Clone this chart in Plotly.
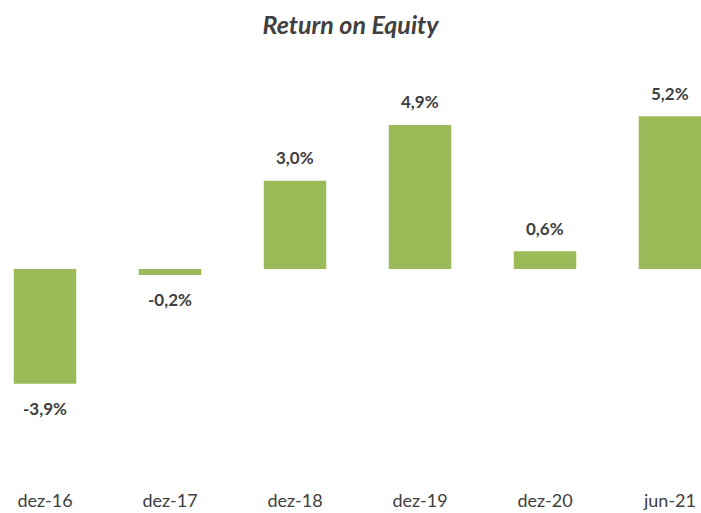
import plotly.graph_objects as go

categories = ["dez-16", "dez-17", "dez-18", "dez-19", "dez-20", "jun-21"]
roe_values = [-3.9, -0.2, 3.0, 4.9, 0.6, 5.2]

FONT = "Lato, Open Sans, sans-serif"
TXT = "#404040"
BAR = "#9BBB59"

xs = list(range(len(categories)))
labels = [f"{v:.1f}".replace(".", ",") + "%" for v in roe_values]

fig = go.Figure()
fig.add_trace(go.Bar(x=xs, y=roe_values, marker=dict(color=BAR, line=dict(width=0)),
                     width=0.5, hoverinfo="skip"))

for x, v, t in zip(xs, roe_values, labels):
    fig.add_annotation(x=x, y=v, text=f"<b>{t}</b>", showarrow=False,
                       yshift=23 if v >= 0 else -25,
                       font=dict(family=FONT, size=17, color=TXT))

fig.update_layout(
    width=701, height=513,
    margin=dict(l=0, r=0, t=60, b=25),
    paper_bgcolor="white", plot_bgcolor="white",
    showlegend=False,
    title=dict(text="<b><i>Return on Equity</i></b>", x=0.5, xanchor="center",
               y=0.951, yanchor="middle",
               font=dict(family=FONT, size=25, color=TXT)),
    xaxis=dict(range=[-0.36, 5.248], tickmode="array", tickvals=xs, ticktext=categories,
               showgrid=False, zeroline=False, showline=False, ticks="",
               tickfont=dict(family=FONT, size=18, color=TXT)),
    yaxis=dict(range=[-7.45, 7.11], showgrid=False, zeroline=False, showline=False,
               showticklabels=False, ticks=""),
)

fig.write_html("out.html", config={"displayModeBar": False},
               post_script="document.body.style.margin='0';document.body.style.overflow='hidden';")
